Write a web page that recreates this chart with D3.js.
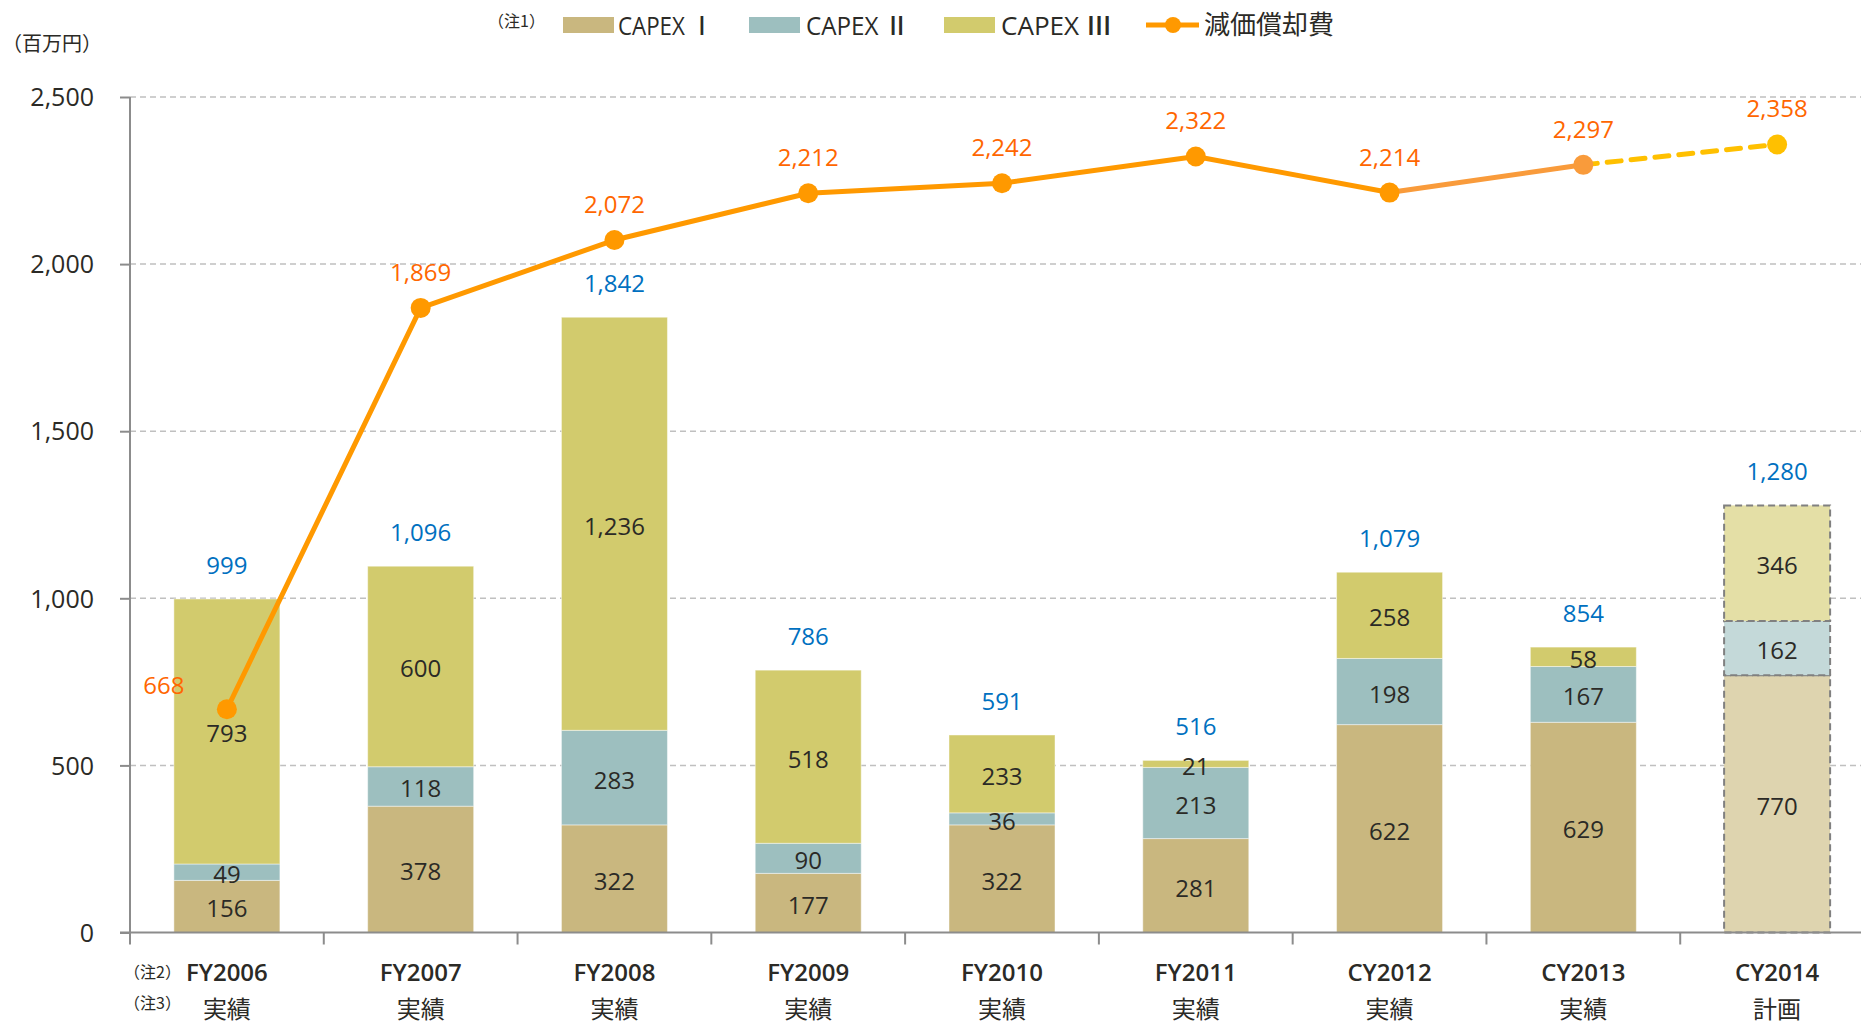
<!DOCTYPE html>
<html>
<head>
<meta charset="utf-8">
<script src="https://cdn.jsdelivr.net/npm/d3@7"></script>
<style>
  html, body { margin: 0; padding: 0; background: #fff; }
  svg { display: block; }
  text { font-family: "Open Sans", "Noto Sans CJK JP", sans-serif; }
  .jp { font-family: "Noto Sans CJK JP", "Open Sans", sans-serif; }
</style>
</head>
<body>
<svg id="chart" width="1861" height="1024"></svg>
<script>
// ---- data ----
const categories = ["FY2006", "FY2007", "FY2008", "FY2009", "FY2010", "FY2011", "CY2012", "CY2013", "CY2014"];
const subLabels  = ["実績", "実績", "実績", "実績", "実績", "実績", "実績", "実績", "計画"];
const capex1 = [156, 378, 322, 177, 322, 281, 622, 629, 770];
const capex2 = [49, 118, 283, 90, 36, 213, 198, 167, 162];
const capex3 = [793, 600, 1236, 518, 233, 21, 258, 58, 346];
const totals = [999, 1096, 1842, 786, 591, 516, 1079, 854, 1280];
const depreciation = [668, 1869, 2072, 2212, 2242, 2322, 2214, 2297, 2358];
const yTicks = [0, 500, 1000, 1500, 2000, 2500];
const seriesNames = ["CAPEX Ⅰ", "CAPEX Ⅱ", "CAPEX Ⅲ"];
const lineName = "減価償却費";

// ---- styles ----
const colors = ["#C9B77F", "#9DBFBF", "#D2CB6D"];
const planColors = ["#DED4AF", "#C4D9D9", "#E4DFA6"];
const lineColor = "#FF9900";
const lineColor2 = "#F99B3B";
const planLineColor = "#FFC000";
const orange = "#FF6600";
const blue = "#0070C0";
const dark = "#2B2A26";

const svg = d3.select("#chart");
const x = d3.scaleBand().domain(categories).range([130, 1874]).paddingInner(0.453).paddingOuter(0.2265);
const y = d3.scaleLinear().domain([0, 2500]).range([932.5, 97]);
const fmt = d3.format(",");
const cx = c => x(c) + x.bandwidth() / 2;

// gridlines
svg.append("g").selectAll("line").data(yTicks.filter(t => t > 0)).join("line")
  .attr("x1", 130).attr("x2", 1861)
  .attr("y1", d => y(d)).attr("y2", d => y(d))
  .attr("stroke", "#C0C0C0").attr("stroke-width", 1.5).attr("stroke-dasharray", "6,4");

// stacked bars
const stackData = categories.map((c, i) => ({ c, i, s0: capex1[i], s1: capex2[i], s2: capex3[i] }));
const stack = d3.stack().keys(["s0", "s1", "s2"])(stackData);
const last = categories.length - 1;
const barG = svg.append("g");
stack.forEach((layer, k) => {
  barG.selectAll(null).data(layer).join("rect")
    .attr("x", d => x(d.data.c))
    .attr("width", x.bandwidth())
    .attr("y", d => y(d[1]))
    .attr("height", d => y(d[0]) - y(d[1]))
    .attr("fill", d => d.data.i === last ? planColors[k] : colors[k])
    .attr("stroke", d => d.data.i === last ? "#808080" : "rgba(255,255,255,0.45)")
    .attr("stroke-width", d => d.data.i === last ? 2 : 1)
    .attr("stroke-dasharray", d => d.data.i === last ? "7,4" : null);
});

// axes
const axisColor = "#8C8C8C";
const yAxis = svg.append("g").attr("transform", "translate(130,0)")
  .call(d3.axisLeft(y).tickValues(yTicks).tickSize(10).tickFormat(fmt));
yAxis.select(".domain").attr("stroke", axisColor).attr("stroke-width", 2).attr("d", `M0,${y(2500)}V${y(0)}`);
yAxis.selectAll(".tick line").attr("stroke", axisColor).attr("stroke-width", 2);
yAxis.selectAll(".tick text").attr("x", -36).attr("dy", "0.35em")
  .attr("font-size", 25).attr("font-weight", 500).attr("fill", dark).attr("font-family", "Open Sans, sans-serif");

svg.append("line").attr("x1", 120).attr("x2", 1861).attr("y1", y(0)).attr("y2", y(0))
  .attr("stroke", axisColor).attr("stroke-width", 2);
svg.append("g").selectAll("line").data(d3.range(categories.length + 1)).join("line")
  .attr("x1", d => 130 + d * x.step()).attr("x2", d => 130 + d * x.step())
  .attr("y1", y(0)).attr("y2", y(0) + 12)
  .attr("stroke", axisColor).attr("stroke-width", 2);

// x labels
svg.append("g").selectAll("text").data(categories).join("text")
  .attr("x", d => cx(d)).attr("y", 981).attr("text-anchor", "middle")
  .attr("font-size", 24).attr("font-weight", 600).attr("fill", dark).text(d => d);
svg.append("g").selectAll("text").data(categories).join("text").attr("class", "jp")
  .attr("x", d => cx(d)).attr("y", 1018).attr("text-anchor", "middle")
  .attr("font-size", 24).attr("fill", dark).text((d, i) => subLabels[i]);
svg.append("text").attr("class", "jp").attr("x", 124).attr("y", 978).attr("font-size", 16).attr("fill", dark).text("（注2）");
svg.append("text").attr("class", "jp").attr("x", 124).attr("y", 1009).attr("font-size", 16).attr("fill", dark).text("（注3）");

// segment labels
stack.forEach((layer, k) => {
  svg.append("g").selectAll("text").data(layer).join("text")
    .attr("x", d => cx(d.data.c))
    .attr("y", d => (y(d[0]) + y(d[1])) / 2 + 11)
    .attr("text-anchor", "middle").attr("font-size", 24).attr("font-weight", 500).attr("fill", dark)
    .text(d => fmt(d[1] - d[0]));
});

// totals
svg.append("g").selectAll("text").data(categories).join("text")
  .attr("x", d => cx(d))
  .attr("y", (d, i) => y(capex1[i] + capex2[i] + capex3[i]) - 25)
  .attr("text-anchor", "middle").attr("font-size", 24).attr("font-weight", 500).attr("fill", blue)
  .text((d, i) => fmt(totals[i]));

// depreciation line
const pts = categories.map((c, i) => [cx(c), y(depreciation[i])]);
const lineGen = d3.line();
const n = pts.length;
svg.append("path").attr("d", lineGen(pts.slice(0, n - 2))).attr("fill", "none")
  .attr("stroke", lineColor).attr("stroke-width", 5).attr("stroke-linejoin", "round");
svg.append("path").attr("d", lineGen(pts.slice(n - 3, n - 1))).attr("fill", "none")
  .attr("stroke", lineColor2).attr("stroke-width", 5);
svg.append("path").attr("d", lineGen(pts.slice(n - 2))).attr("fill", "none")
  .attr("stroke", planLineColor).attr("stroke-width", 5).attr("stroke-dasharray", "14,10").attr("stroke-linecap", "round");
svg.append("g").selectAll("circle").data(pts).join("circle")
  .attr("cx", d => d[0]).attr("cy", d => d[1]).attr("r", 10)
  .attr("fill", (d, i) => i === n - 1 ? planLineColor : (i === n - 2 ? lineColor2 : lineColor));

svg.append("g").selectAll("text").data(categories).join("text")
  .attr("x", (d, i) => i === 0 ? cx(d) - 63 : cx(d))
  .attr("y", (d, i) => y(depreciation[i]) + (i === 0 ? -15 : -27))
  .attr("text-anchor", "middle").attr("font-size", 24).attr("font-weight", 500).attr("fill", orange)
  .text((d, i) => fmt(depreciation[i]));

// unit label
svg.append("text").attr("class", "jp").attr("x", 2).attr("y", 51).attr("font-size", 20).attr("fill", dark).text("（百万円）");

// legend
const lg = svg.append("g");
lg.append("text").attr("class", "jp").attr("x", 488).attr("y", 27).attr("font-size", 16).attr("fill", dark).text("（注1）");
const legendItems = [
  { x: 563, tx: 618, w: 95 },
  { x: 749, tx: 806, w: 103 },
  { x: 944, tx: 1001, w: 111 }
];
legendItems.forEach((it, k) => {
  lg.append("rect").attr("x", it.x).attr("y", 17).attr("width", 51).attr("height", 16).attr("fill", colors[k]);
  lg.append("text").attr("x", it.tx).attr("y", 35).attr("font-size", 26).attr("font-weight", 500).attr("fill", dark)
    .attr("textLength", it.w).attr("lengthAdjust", "spacingAndGlyphs").text(seriesNames[k]);
});
lg.append("line").attr("x1", 1146).attr("x2", 1199).attr("y1", 25).attr("y2", 25)
  .attr("stroke", lineColor).attr("stroke-width", 5);
lg.append("circle").attr("cx", 1173).attr("cy", 25).attr("r", 8).attr("fill", lineColor);
lg.append("text").attr("class", "jp").attr("x", 1204).attr("y", 34).attr("font-size", 26).attr("fill", dark).text(lineName);
</script>
</body>
</html>
